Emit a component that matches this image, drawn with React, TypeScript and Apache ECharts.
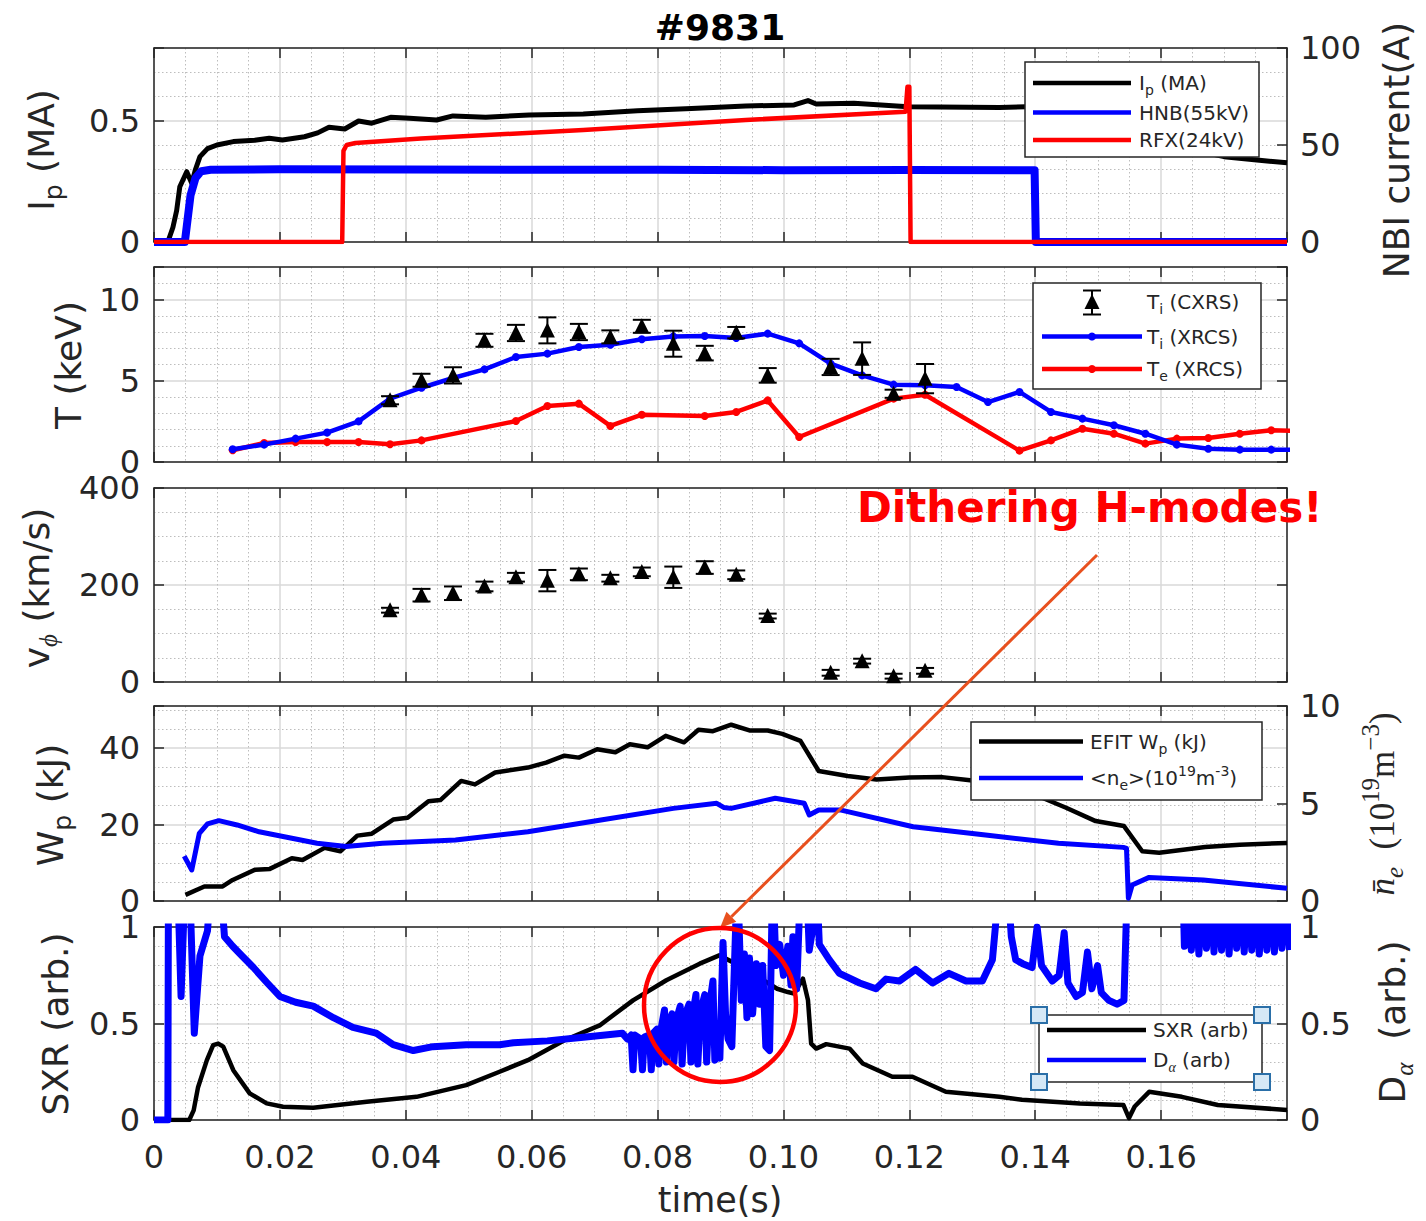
import React, { useEffect, useRef } from 'react';
import * as echarts from 'echarts';

// ---------------- data ----------------
const X_MIN = 0;
const X_MAX = 0.18;
const X_STEP = 0.02;

// Panel 1: Ip (MA, left axis); HNB / RFX beam currents (A, right axis)
const ipPts = [[0,0],[0.0022,0],[0.003,0.06],[0.0036,0.13],[0.0041,0.228],[0.0052,0.29],[0.006,0.242],[0.0066,0.30],[0.0073,0.352],[0.0085,0.385],[0.01,0.40],[0.0126,0.414],[0.016,0.42],[0.0183,0.428],[0.0204,0.421],[0.0239,0.434],[0.026,0.45],[0.0278,0.473],[0.0303,0.466],[0.0325,0.499],[0.0346,0.49],[0.0376,0.514],[0.0406,0.51],[0.0449,0.503],[0.0475,0.52],[0.0527,0.514],[0.0596,0.524],[0.0682,0.528],[0.0768,0.541],[0.0854,0.551],[0.094,0.561],[0.1017,0.565],[0.1039,0.583],[0.1052,0.569],[0.1112,0.572],[0.1198,0.558],[0.1343,0.555],[0.1386,0.558],[0.145,0.52],[0.155,0.45],[0.163,0.39],[0.17,0.352],[0.1756,0.337],[0.18,0.327]];
const hnbPts = [[0,0],[0.0049,0],[0.0052,8],[0.0058,24],[0.0066,33],[0.0075,36.5],[0.009,37.2],[0.02,37.5],[0.04,37.4],[0.06,37.2],[0.08,37.3],[0.1,37.0],[0.12,37.1],[0.1399,37.0],[0.1401,0],[0.18,0]];
const rfxPts = [[0,0],[0.0299,0],[0.0301,47],[0.0306,50],[0.032,51],[0.0424,53.4],[0.0682,57.7],[0.094,62.9],[0.1194,67.2],[0.1197,80],[0.12,80],[0.1202,0],[0.18,0]];

// Panel 2: temperatures (keV)
const tiXrcsT = [0.0125,0.0175,0.0225,0.0275,0.0325,0.0375,0.0425,0.0475,0.0525,0.0575,0.0625,0.0675,0.0725,0.0775,0.0825,0.0875,0.0925,0.0975,0.1025,0.1075,0.1125,0.1175,0.1225,0.1275,0.1325,0.1375,0.1425,0.1475,0.1525,0.1575,0.1625,0.1675,0.1725,0.1775,0.1825];
const tiXrcsV = [0.78,1.07,1.44,1.81,2.5,3.9,4.57,5.17,5.7,6.46,6.67,7.08,7.22,7.55,7.73,7.75,7.63,7.9,7.3,6.05,5.33,4.76,4.72,4.62,3.69,4.31,3.08,2.67,2.26,1.74,1.07,0.82,0.76,0.76,0.75];
const teXrcsT = [0.0125,0.0175,0.0225,0.0275,0.0325,0.0375,0.0425,0.0575,0.0625,0.0675,0.0725,0.0775,0.0875,0.0925,0.0975,0.1025,0.1175,0.1225,0.1375,0.1425,0.1475,0.1525,0.1575,0.1625,0.1675,0.1725,0.1775,0.1825];
const teXrcsV = [0.72,1.17,1.23,1.23,1.23,1.09,1.33,2.52,3.45,3.59,2.22,2.91,2.83,3.08,3.79,1.54,3.9,4.14,0.7,1.33,2.05,1.74,1.13,1.44,1.48,1.74,1.95,1.9];
const cxrsT = [0.0375,0.0425,0.0475,0.0525,0.0575,0.0625,0.0675,0.0725,0.0775,0.0825,0.0875,0.0925,0.0975,0.1075,0.1125,0.1175,0.1225];
const cxrsTi = [3.8,5.03,5.33,7.49,7.94,8.1,8.0,7.7,8.35,7.28,6.7,7.96,5.33,5.85,6.36,4.2,5.13];
const cxrsTiErr = [0.25,0.4,0.5,0.4,0.5,0.8,0.5,0.4,0.4,0.8,0.45,0.35,0.45,0.5,1.0,0.25,0.9];

// Panel 3: toroidal rotation (km/s), CXRS times
const vphiV = [148,179,183,197,216,209,222,214,227,216,236,221,136,19,43,12,23];
const vphiErr = [5,13,14,10,9,22,12,7,9,22,13,9,5,6,5,5,6];

// Panel 4: Wp (kJ, left) and line density (1e19 m^-3, right)
const wpPts = [[0.005,1.6],[0.008,3.8],[0.0109,3.8],[0.0125,5.5],[0.0161,8.2],[0.0184,8.4],[0.0219,11.2],[0.0236,10.7],[0.0271,13.9],[0.0296,13.0],[0.0323,17.1],[0.0346,17.6],[0.038,21.3],[0.0403,21.8],[0.0436,26.1],[0.0455,26.4],[0.0488,31.4],[0.051,30.5],[0.0542,33.6],[0.0594,34.9],[0.0623,36.2],[0.0652,38],[0.0675,37.5],[0.0704,39.7],[0.0733,38.9],[0.0756,41],[0.0784,40.2],[0.0813,43.2],[0.0842,41.5],[0.0865,44.8],[0.0888,44.4],[0.0917,46.1],[0.0946,44.6],[0.0975,44.6],[0.0998,43.7],[0.1027,41.9],[0.1056,34],[0.1102,32.7],[0.1148,31.8],[0.12,32.3],[0.1252,32.4],[0.13,31.5],[0.1375,29.5],[0.1449,24.4],[0.1496,20.9],[0.1541,19.6],[0.157,13],[0.1597,12.6],[0.167,14.1],[0.1725,14.7],[0.18,15.2]];
const nePts = [[0.0048,2.3],[0.006,1.59],[0.0072,3.47],[0.0085,3.95],[0.0103,4.12],[0.0132,3.9],[0.0167,3.55],[0.0213,3.26],[0.0259,2.96],[0.0305,2.79],[0.0363,2.96],[0.0479,3.13],[0.0594,3.55],[0.071,4.15],[0.0825,4.75],[0.0894,5.01],[0.0905,4.8],[0.0917,4.75],[0.0987,5.27],[0.1033,5.01],[0.1041,4.41],[0.1056,4.67],[0.109,4.67],[0.1206,3.81],[0.1321,3.38],[0.1437,2.96],[0.154,2.75],[0.1545,2.7],[0.1548,0.14],[0.1554,0.82],[0.1581,1.21],[0.1667,1.08],[0.18,0.65]];

// Panel 5: SXR (arb, left) and D-alpha (arb, right)
const sxrPts = [[0,0],[0.0056,0],[0.0063,0.05],[0.007,0.17],[0.0084,0.31],[0.0094,0.388],[0.0102,0.396],[0.011,0.38],[0.0126,0.258],[0.0152,0.138],[0.0179,0.086],[0.0205,0.069],[0.0253,0.064],[0.0338,0.095],[0.0417,0.12],[0.0496,0.181],[0.0549,0.25],[0.0594,0.31],[0.0652,0.413],[0.0708,0.49],[0.0761,0.62],[0.0814,0.724],[0.0867,0.81],[0.0898,0.853],[0.093,0.80],[0.096,0.74],[0.099,0.68],[0.1007,0.663],[0.1017,0.655],[0.1031,0.732],[0.1039,0.62],[0.1044,0.396],[0.1052,0.37],[0.1068,0.393],[0.1105,0.37],[0.1126,0.293],[0.1173,0.224],[0.1205,0.224],[0.1258,0.146],[0.1343,0.12],[0.1379,0.105],[0.1471,0.086],[0.154,0.078],[0.1549,0.01],[0.1558,0.07],[0.1581,0.146],[0.1633,0.12],[0.169,0.078],[0.18,0.052]];
const daPts = [[0,0],[0.0022,0],[0.0023,1.3],[0.0037,1.3],[0.0043,0.64],[0.005,1.3],[0.0056,1.3],[0.0064,0.45],[0.0073,0.85],[0.0085,0.98],[0.0092,1.3],[0.0104,1.3],[0.0112,0.95],[0.0125,0.9],[0.014,0.85],[0.0158,0.79],[0.018,0.71],[0.02,0.64],[0.0225,0.61],[0.0253,0.59],[0.0285,0.53],[0.0316,0.48],[0.0353,0.45],[0.038,0.39],[0.0412,0.36],[0.0443,0.38],[0.0496,0.39],[0.0549,0.39],[0.0571,0.40],[0.0625,0.41],[0.0686,0.43],[0.0744,0.45],
[0.0752,0.42],[0.0758,0.44],[0.0761,0.26],[0.0764,0.44],[0.0773,0.42],[0.0776,0.26],[0.0779,0.43],[0.0787,0.44],[0.079,0.26],[0.0793,0.45],[0.0799,0.47],[0.0802,0.29],[0.0806,0.48],[0.0811,0.57],[0.0814,0.30],[0.0817,0.50],[0.0823,0.55],[0.0826,0.30],[0.083,0.52],[0.0836,0.59],[0.0839,0.29],[0.0843,0.54],[0.085,0.60],[0.0853,0.30],[0.0856,0.55],[0.0861,0.65],[0.0864,0.29],[0.0868,0.56],[0.0875,0.65],[0.0878,0.30],[0.0882,0.58],[0.0888,0.72],[0.0891,0.31],[0.0896,0.45],[0.0899,0.32],[0.0904,0.92],[0.0908,0.55],[0.0912,0.42],[0.0918,0.38],[0.0927,1.3],[0.0933,0.62],[0.0938,0.86],[0.0942,0.53],[0.0946,0.84],[0.0951,0.55],[0.0957,0.81],[0.0962,0.60],[0.0967,0.80],[0.0972,0.38],[0.0978,0.36],[0.0983,1.3],[0.0988,0.80],[0.0994,0.91],[0.1,0.75],[0.1007,0.90],[0.1012,0.70],[0.1015,0.95],[0.1021,0.68],[0.1028,1.3],[0.1036,1.3],[0.1041,0.88],[0.1047,1.0],[0.1052,1.3],
[0.1057,0.91],[0.1073,0.83],[0.1089,0.76],[0.1121,0.71],[0.1147,0.68],[0.1163,0.73],[0.1184,0.72],[0.121,0.78],[0.1237,0.71],[0.1263,0.76],[0.129,0.72],[0.1316,0.72],[0.1332,0.83],[0.1345,1.3],[0.1355,1.3],[0.1362,0.95],[0.1369,0.83],[0.138,0.81],[0.1395,0.79],[0.1403,1.0],[0.141,0.80],[0.1427,0.72],[0.1438,0.75],[0.1446,0.97],[0.1452,0.71],[0.1465,0.64],[0.1475,0.66],[0.1483,0.87],[0.149,0.68],[0.1499,0.80],[0.1505,0.66],[0.1517,0.62],[0.153,0.60],[0.1541,0.62],[0.1547,1.3],[0.1634,1.3],
[0.1637,0.90],[0.1642,1.2],[0.1648,0.88],[0.1654,1.2],[0.166,0.86],[0.1666,1.2],[0.1672,0.89],[0.1678,1.2],[0.1684,0.87],[0.169,1.2],[0.1696,0.88],[0.1702,1.2],[0.1708,0.86],[0.1714,1.2],[0.172,0.89],[0.1726,1.2],[0.1732,0.87],[0.1738,1.2],[0.1744,0.88],[0.175,1.2],[0.1756,0.86],[0.1762,1.2],[0.1768,0.88],[0.1774,1.2],[0.178,0.87],[0.1786,1.2],[0.1792,0.89],[0.1798,1.2],[0.1804,0.88]];

// axis scales per panel: [min, max, interval, minorSplit]
const yLeftScale = [[0,0.8,0.5,5],[0,12,5,5],[0,400,200,4],[0,51,20,4],[0,1,0.5,5]];
const yRightScale = [[0,100,50],null,null,[0,10,5],[0,1,0.5]];

// ---------------- layout / style ----------------
const F = 'DejaVu Sans';
const SERIF = 'Liberation Serif';
const AX = '#262626';
const GRID_LEFT = 154;
const GRID_W = 1133;
const GRID_TOPS = [48, 267, 488, 706, 927];
const GRID_HS = [194, 195, 194, 195, 193];

const isMult = (v: number, step: number) => Math.abs(v / step - Math.round(v / step)) < 1e-6;

function rs(fs: number, color = AX) {
  const sub = Math.round(fs * 0.7);
  const lh = Math.round(fs * 1.4);
  const sl = Math.round(fs * 0.4);
  return {
    m: { fontSize: fs, fontFamily: F, lineHeight: lh, fill: color },
    s: { fontSize: sub, fontFamily: F, lineHeight: sl, fill: color, verticalAlign: 'bottom' },
    u: { fontSize: sub, fontFamily: F, lineHeight: sl, fill: color, verticalAlign: 'top' },
    g: { fontSize: sub, fontFamily: SERIF, fontStyle: 'italic', lineHeight: sl, fill: color, verticalAlign: 'bottom' },
    r: { fontSize: fs, fontFamily: SERIF, lineHeight: lh, fill: color },
    ni: { fontSize: fs, fontFamily: SERIF, fontStyle: 'italic', lineHeight: lh, fill: color },
    ru: { fontSize: sub, fontFamily: SERIF, lineHeight: sl, fill: color, verticalAlign: 'top' },
  };
}

function buildOption() {
  const grid = GRID_TOPS.map((t, i) => ({ left: GRID_LEFT, top: t, width: GRID_W, height: GRID_HS[i], containLabel: false }));
  const lineSt = { color: AX, width: 1.5 };
  const tick = { show: true, inside: true, length: 10, lineStyle: lineSt };
  const xAxis: any[] = [];
  for (let g = 0; g < 5; g++) {
    xAxis.push({
      type: 'value', gridIndex: g, position: 'bottom', min: X_MIN, max: X_MAX, interval: X_STEP,
      axisLine: { show: true, onZero: false, lineStyle: lineSt },
      axisTick: tick,
      axisLabel: g === 4 ? {
        show: true, fontSize: 32, fontFamily: F, color: AX, margin: 21,
        formatter: (v: number) => (v > X_MAX - 0.001 ? '' : v === 0 ? '0' : v.toFixed(2)),
      } : { show: false },
      splitLine: { show: true, lineStyle: { color: '#d9d9d9', width: 1.5 } },
      minorTick: { show: false, splitNumber: 4 },
      minorSplitLine: { show: true, lineStyle: { color: '#bdbdbd', width: 1, type: [1.5, 2.5] } },
    });
  }
  for (let g = 0; g < 5; g++) {
    xAxis.push({
      type: 'value', gridIndex: g, position: 'top', min: X_MIN, max: X_MAX, interval: X_STEP,
      axisLine: { show: true, onZero: false, lineStyle: lineSt },
      axisTick: tick, axisLabel: { show: false }, splitLine: { show: false },
    });
  }
  const yAxis: any[] = [];
  for (let g = 0; g < 5; g++) {
    const [mn, mx, iv, ms] = yLeftScale[g];
    yAxis.push({
      type: 'value', gridIndex: g, position: 'left', min: mn, max: mx, interval: iv,
      axisLine: { show: true, onZero: false, lineStyle: lineSt },
      axisTick: tick,
      axisLabel: { show: true, fontSize: 32, fontFamily: F, color: AX, margin: 14,
        formatter: (v: number) => (isMult(v, iv) ? String(+v.toFixed(3)) : '') },
      splitLine: { show: true, lineStyle: { color: '#d9d9d9', width: 1.5 } },
      minorTick: { show: false, splitNumber: ms },
      minorSplitLine: { show: true, lineStyle: { color: '#bdbdbd', width: 1, type: [1.5, 2.5] } },
    });
    const r = yRightScale[g];
    const [rmn, rmx, riv] = r ? r : [mn, mx, iv];
    yAxis.push({
      type: 'value', gridIndex: g, position: 'right', min: rmn, max: rmx, interval: riv,
      axisLine: { show: true, onZero: false, lineStyle: lineSt },
      axisTick: tick,
      axisLabel: r ? { show: true, fontSize: 32, fontFamily: F, color: AX, margin: 13,
        formatter: (v: number) => (isMult(v, riv) ? String(+v.toFixed(3)) : '') } : { show: false },
      splitLine: { show: false },
    });
  }

  const line = (data: any, g: number, right: boolean, color: string, width: number, z = 2) => ({
    type: 'line', xAxisIndex: g, yAxisIndex: g * 2 + (right ? 1 : 0), data,
    showSymbol: false, symbol: 'none', lineStyle: { color, width, join: 'round' }, itemStyle: { color },
    silent: true, z, clip: true,
  });
  const zip = (t: number[], v: number[]) => t.map((x, i) => [x, v[i]]);

  const errRender = (params: any, api: any) => {
    const t = api.value(0), v = api.value(1), e = api.value(2);
    const c = api.coord([t, v]);
    const hi = api.coord([t, v + e]);
    const lo = api.coord([t, v - e]);
    const st = { stroke: '#000', lineWidth: 2 };
    return {
      type: 'group', children: [
        { type: 'line', shape: { x1: c[0], y1: hi[1], x2: c[0], y2: lo[1] }, style: st },
        { type: 'line', shape: { x1: c[0] - 9, y1: hi[1], x2: c[0] + 9, y2: hi[1] }, style: st },
        { type: 'line', shape: { x1: c[0] - 9, y1: lo[1], x2: c[0] + 9, y2: lo[1] }, style: st },
        { type: 'polygon', shape: { points: [[c[0], c[1] - 8], [c[0] - 7.5, c[1] + 7], [c[0] + 7.5, c[1] + 7]] }, style: { fill: '#000' } },
      ],
    };
  };

  const series: any[] = [
    line(ipPts, 0, false, '#000000', 5, 2),
    line(hnbPts, 0, true, '#0000ff', 8, 3),
    line(rfxPts, 0, true, '#ff0000', 4.5, 4),
    { ...line(zip(teXrcsT, teXrcsV), 1, false, '#ff0000', 4.5, 3), showSymbol: true, symbol: 'circle', symbolSize: 8 },
    { ...line(zip(tiXrcsT, tiXrcsV), 1, false, '#0000ff', 4.5, 4), showSymbol: true, symbol: 'circle', symbolSize: 8 },
    { type: 'custom', xAxisIndex: 1, yAxisIndex: 2, renderItem: errRender, encode: { x: 0, y: 1 }, z: 6, silent: true,
      data: cxrsT.map((t, i) => [t, cxrsTi[i], cxrsTiErr[i]]) },
    { type: 'custom', xAxisIndex: 2, yAxisIndex: 4, renderItem: errRender, encode: { x: 0, y: 1 }, z: 6, silent: true,
      data: cxrsT.map((t, i) => [t, vphiV[i], vphiErr[i]]) },
    line(wpPts, 3, false, '#000000', 4.5, 2),
    line(nePts, 3, true, '#0000ff', 5, 3),
    line(sxrPts, 4, false, '#000000', 4.5, 2),
    line(daPts, 4, true, '#0000ff', 7, 3),
  ];

  // ---------- graphic overlays ----------
  const els: any[] = [];
  const Z = 100;
  const txt = (x: number, y: number, text: string, fs: number, opts: any = {}) => ({
    type: 'text', x, y, z: Z, rotation: opts.rot || 0,
    style: { text, rich: rs(fs, opts.color), align: opts.align || 'center', verticalAlign: 'middle' },
  });
  // title
  els.push({ type: 'text', x: 720, y: 27, z: Z, style: { text: '#9831', fontFamily: F, fontSize: 36, fontWeight: 'bold', fill: '#000', align: 'center', verticalAlign: 'middle' } });
  // left axis names
  const R = Math.PI / 2;
  els.push(txt(41, 150, '{m|I}{s|p}{m| (MA)}', 36, { rot: R }));
  els.push(txt(68, 365, '{m|T (keV)}', 36, { rot: R }));
  els.push(txt(36, 588, '{m|v}{g|ϕ}{m| (km/s)}', 36, { rot: R }));
  els.push(txt(50, 805, '{m|W}{s|p}{m| (kJ)}', 36, { rot: R }));
  els.push(txt(55, 1024, '{m|SXR (arb.)}', 36, { rot: R }));
  // right axis names
  els.push(txt(1396, 150, '{m|NBI current(A)}', 36, { rot: R }));
  els.push(txt(1382, 804, '{ni|n̄}{g|e}{r|  (10}{ru|19}{r|m}{ru|−3}{r|)}', 35, { rot: R }));
  els.push(txt(1392, 1022, '{m|D}{g|α}{m|  (arb.)}', 36, { rot: R }));
  // x label
  els.push({ type: 'text', x: 720, y: 1200, z: Z, style: { text: 'time(s)', fontFamily: F, fontSize: 35, fill: AX, align: 'center', verticalAlign: 'middle' } });

  const box = (x1: number, y1: number, x2: number, y2: number) => ({
    type: 'rect', z: Z, shape: { x: x1, y: y1, width: x2 - x1, height: y2 - y1 },
    style: { fill: '#ffffff', stroke: AX, lineWidth: 1.5 },
  });
  const lg = (x1: number, x2: number, y: number, color: string, w = 4.5) => ({
    type: 'line', z: Z + 1, shape: { x1, y1: y, x2, y2: y }, style: { stroke: color, lineWidth: w },
  });
  const lt = (x: number, y: number, text: string) => ({ ...txt(x, y, text, 20, { align: 'left' }), z: Z + 1 });

  // legend 1
  els.push(box(1025, 62, 1259, 157));
  els.push(lg(1033, 1131, 83, '#000'));
  els.push(lg(1033, 1131, 112.5, '#0000ff'));
  els.push(lg(1033, 1131, 140, '#ff0000'));
  els.push(lt(1139, 83, '{m|I}{s|p}{m| (MA)}'));
  els.push(lt(1139, 112.5, '{m|HNB(55kV)}'));
  els.push(lt(1139, 140, '{m|RFX(24kV)}'));
  // legend 2
  els.push(box(1033, 283, 1261, 389));
  const tx = 1092, ty = 302;
  els.push({ type: 'line', z: Z + 1, shape: { x1: tx, y1: 290.5, x2: tx, y2: 314.5 }, style: { stroke: '#000', lineWidth: 2 } });
  els.push({ type: 'line', z: Z + 1, shape: { x1: tx - 9, y1: 290.5, x2: tx + 9, y2: 290.5 }, style: { stroke: '#000', lineWidth: 2 } });
  els.push({ type: 'line', z: Z + 1, shape: { x1: tx - 9, y1: 314.5, x2: tx + 9, y2: 314.5 }, style: { stroke: '#000', lineWidth: 2 } });
  els.push({ type: 'polygon', z: Z + 1, shape: { points: [[tx, ty - 8], [tx - 7.5, ty + 7], [tx + 7.5, ty + 7]] }, style: { fill: '#000' } });
  els.push(lg(1042, 1142, 336.5, '#0000ff'));
  els.push({ type: 'circle', z: Z + 2, shape: { cx: 1092, cy: 336.5, r: 4 }, style: { fill: '#0000ff' } });
  els.push(lg(1042, 1142, 369, '#ff0000'));
  els.push({ type: 'circle', z: Z + 2, shape: { cx: 1092, cy: 369, r: 4 }, style: { fill: '#ff0000' } });
  els.push(lt(1147, 302, '{m|T}{s|i}{m| (CXRS)}'));
  els.push(lt(1147, 336.5, '{m|T}{s|i}{m| (XRCS)}'));
  els.push(lt(1147, 369, '{m|T}{s|e}{m| (XRCS)}'));
  // legend 4
  els.push(box(971, 722, 1262, 800));
  els.push(lg(979, 1083, 741.5, '#000'));
  els.push(lg(979, 1083, 778, '#0000ff'));
  els.push(lt(1090, 741.5, '{m|EFIT W}{s|p}{m| (kJ)}'));
  els.push(lt(1090, 778, '{m|<n}{s|e}{m|>(10}{u|19}{m|m}{u|-3}{m|)}'));
  // legend 5
  els.push(box(1039, 1015, 1262, 1082));
  els.push(lg(1047, 1146, 1030, '#000'));
  els.push(lg(1047, 1146, 1060, '#0000ff'));
  els.push(lt(1153, 1030, '{m|SXR (arb)}'));
  els.push(lt(1153, 1060, '{m|D}{g|α}{m| (arb)}'));
  for (const [hx, hy] of [[1039, 1015], [1262, 1015], [1039, 1082], [1262, 1082]]) {
    els.push({ type: 'rect', z: Z + 3, shape: { x: hx - 8, y: hy - 8, width: 16, height: 16 },
      style: { fill: '#d5e8f6', stroke: '#2a6fa8', lineWidth: 2 } });
  }
  // annotation
  els.push({ type: 'text', x: 857, y: 507, z: Z, style: { text: 'Dithering H-modes!', fontFamily: F, fontWeight: 'bold', fontSize: 42, fill: '#ff0000', align: 'left', verticalAlign: 'middle' } });
  const ax0 = 1097, ay0 = 555, ax1 = 720, ay1 = 928;
  const dx = ax1 - ax0, dy = ay1 - ay0, dl = Math.hypot(dx, dy);
  const ux = dx / dl, uy = dy / dl, nx = -uy, ny = ux;
  const bx = ax1 - 16 * ux, by = ay1 - 16 * uy;
  els.push({ type: 'line', z: Z, shape: { x1: ax0, y1: ay0, x2: bx, y2: by }, style: { stroke: '#e8501e', lineWidth: 3 } });
  els.push({ type: 'polygon', z: Z, shape: { points: [[ax1, ay1], [bx + 7 * nx, by + 7 * ny], [bx - 7 * nx, by - 7 * ny]] }, style: { fill: '#e8501e' } });
  els.push({ type: 'ellipse', z: Z, shape: { cx: 720, cy: 1005, rx: 76, ry: 77 }, style: { fill: 'none', stroke: '#ff0000', lineWidth: 4.5 } });

  return {
    animation: false,
    backgroundColor: '#ffffff',
    textStyle: { fontFamily: F },
    grid, xAxis, yAxis, series,
    graphic: { elements: els },
  };
}

export default function App() {
  const ref = useRef<HTMLDivElement>(null);
  useEffect(() => {
    const chart = echarts.init(ref.current as HTMLDivElement, null, { renderer: 'svg' });
    chart.setOption(buildOption() as any);
    return () => chart.dispose();
  }, []);
  return <div ref={ref} style={{ position: 'absolute', left: 0, top: 0, width: 1426, height: 1221, background: '#fff' }} />;
}
